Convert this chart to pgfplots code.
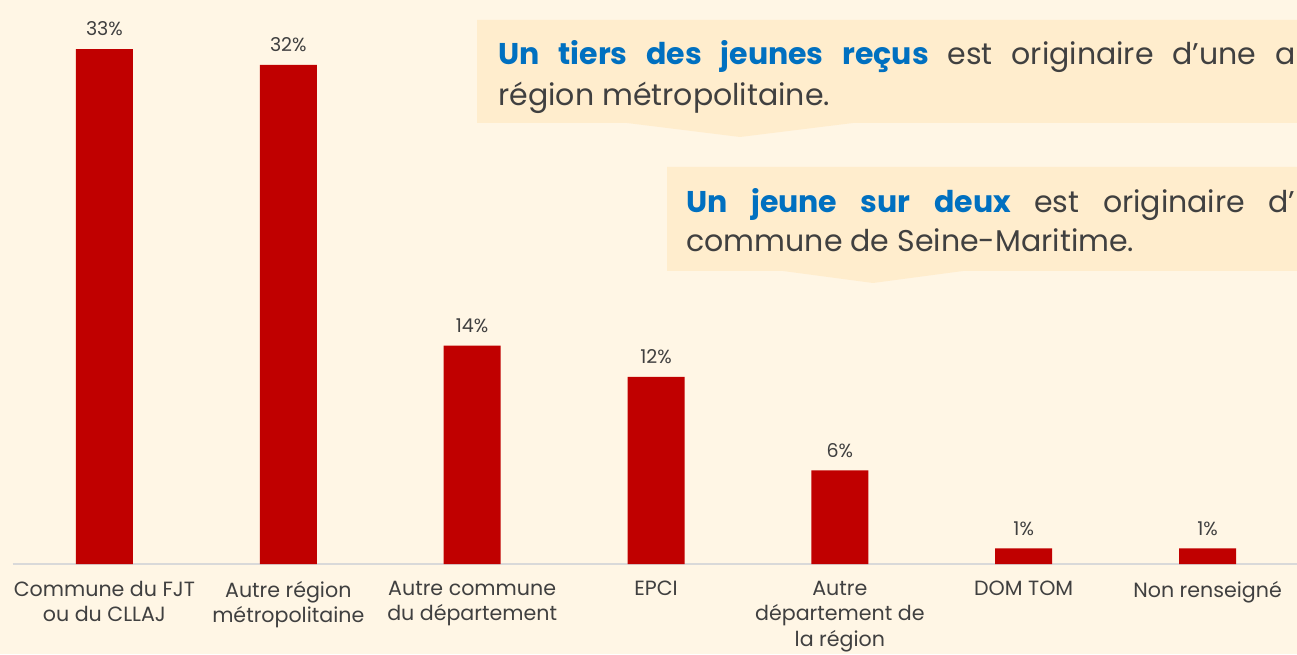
\documentclass[border=0pt]{standalone}
\usepackage{fontspec}
\setmainfont{Poppins}
\usepackage{pgfplots}
\pgfplotsset{compat=1.18}
\definecolor{PageBg}{HTML}{FFF6E5}
\definecolor{BoxBg}{HTML}{FFEDCD}
\definecolor{BarRed}{HTML}{C00000}
\definecolor{TextGray}{HTML}{404040}
\definecolor{KeyBlue}{HTML}{0070C0}
\definecolor{AxisGray}{HTML}{D9D9D9}

% picture in pixels of the reference: 1px = 0.5pt, y measured from the bottom (654 - y_top)
\begin{document}
\begin{tikzpicture}[x=0.5pt, y=0.5pt]
  \path[use as bounding box] (0,0) rectangle (1297,654);
  \clip (0,0) rectangle (1297,654);
  \fill[PageBg] (0,0) rectangle (1297,654);

  % callouts
  \fill[BoxBg] (477,634) -- (1310,634) -- (1310,531) -- (853,531) -- (740,517)
    -- (627,531) -- (477,531) -- cycle;
  \fill[BoxBg] (667,487) -- (1310,487) -- (1310,383) -- (963,383) -- (873,371)
    -- (783,383) -- (667,383) -- cycle;

  \begin{scope}[every node/.style={inner sep=0pt, text=TextGray,
      font=\fontsize{15}{17}\selectfont}]
    \node[anchor=base west] at (498,589) {\hbox to 398.5pt{%
      \textcolor{KeyBlue}{\textbf{Un}}\hfill\textcolor{KeyBlue}{\textbf{tiers}}\hfill
      \textcolor{KeyBlue}{\textbf{des}}\hfill\textcolor{KeyBlue}{\textbf{jeunes}}\hfill
      \textcolor{KeyBlue}{\textbf{reçus}}\hfill est\hfill originaire\hfill d’une\hfill a}};
    \node[anchor=base west] at (498,548) {région métropolitaine.};
    \node[anchor=base west] at (686,441) {\hbox to 304.5pt{%
      \textcolor{KeyBlue}{\textbf{Un}}\hfill\textcolor{KeyBlue}{\textbf{jeune}}\hfill
      \textcolor{KeyBlue}{\textbf{sur}}\hfill\textcolor{KeyBlue}{\textbf{deux}}\hfill
      est\hfill originaire\hfill d’}};
    \node[anchor=base west] at (686,402) {commune de Seine-Maritime.};
  \end{scope}

  \begin{axis}[
      at={(12.5pt*0.5,90pt*0.5)}, anchor=south west,
      scale only axis,
      width=643.5pt, height=280.8pt,
      xmin=-0.5, xmax=6.5,
      ymin=0, ymax=36,
      axis x line=bottom, axis y line=none,
      x axis line style={draw=AxisGray, line width=1.1pt, -},
      ytick=\empty,
      xtick=data,
      major tick length=0pt,
      xticklabels={{Commune du FJT\\ou du CLLAJ},
                   {Autre région\\métropolitaine},
                   {Autre commune\\du département},
                   {EPCI},
                   {Autre\\département de\\la région},
                   {DOM TOM},
                   {Non renseigné}},
      xticklabel style={align=center, text=TextGray,
        font=\fontsize{10.3}{12.8}\selectfont, yshift=-5pt},
      /pgf/number format/assume math mode=true,
      nodes near coords={\pgfmathprintnumber{\pgfplotspointmeta}\%},
      nodes near coords style={text=TextGray,
        font=\fontsize{9.5}{11}\selectfont, yshift=3pt},
      clip=false,
    ]
    \addplot[ybar, bar width=28.5pt, fill=BarRed, draw=none] coordinates {
      (0,33) (1,32) (2,14) (3,12) (4,6) (5,1) (6,1)
    };
  \end{axis}
\end{tikzpicture}
\end{document}
